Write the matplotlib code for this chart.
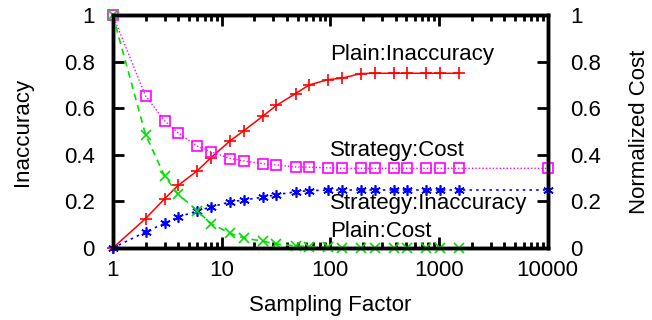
import matplotlib
matplotlib.use('Agg')
import matplotlib.pyplot as plt
from matplotlib.ticker import LogLocator, FixedLocator, NullFormatter

plt.rcParams['font.family'] = ['Liberation Sans', 'DejaVu Sans']

# sampling factors
factor = [1, 2, 3, 4, 6, 8, 12, 16, 24, 32, 48, 64, 96, 128, 192, 256, 384, 512, 768, 1024, 1536]
factor_strategy = factor + [10000]

# series
plain_inacc = [0.0, 0.126, 0.212, 0.269, 0.332, 0.388, 0.46, 0.503, 0.566, 0.612, 0.663, 0.700,
               0.723, 0.729, 0.749, 0.750, 0.750, 0.750, 0.750, 0.750, 0.750]
strategy_cost = [1.0, 0.653, 0.546, 0.494, 0.437, 0.413, 0.384, 0.374, 0.362, 0.357, 0.348, 0.347,
                 0.344, 0.342, 0.342, 0.342, 0.342, 0.342, 0.342, 0.342, 0.342, 0.342]
strategy_inacc = [0.0, 0.069, 0.106, 0.133, 0.159, 0.176, 0.198, 0.206, 0.218, 0.229, 0.241, 0.246,
                  0.249, 0.249, 0.249, 0.249, 0.249, 0.249, 0.249, 0.249, 0.249, 0.249]
plain_cost = [1.0, 0.487, 0.308, 0.231, 0.159, 0.105, 0.063, 0.043, 0.029, 0.017, 0.009, 0.006,
              0.003, 0.002, 0.001, 0.0, 0.0, 0.0, 0.0, 0.0, 0.0]

fig = plt.figure(figsize=(6.52, 3.2), dpi=100)
ax = fig.add_axes([0.173, 0.225, 0.667, 0.728])
ax2 = ax.twinx()

ax.plot(factor, plain_inacc, color='#ff0000', lw=1.1, ls='-', marker='+', ms=8, mew=1.2, clip_on=False)
ax.plot(factor_strategy, strategy_inacc, color='#0000ff', lw=1.2, ls=(0, (1.5, 2.5)), marker=(6, 2, 0),
        ms=7.5, mew=1.2, clip_on=False, zorder=3)
ax2.plot(factor_strategy, strategy_cost, color='#ff00ff', lw=1.0, ls=(0, (1, 1.5)), marker='s', ms=7,
         mfc='none', mew=1.2, clip_on=False)
ax2.plot(factor, plain_cost, color='#00e000', lw=1.2, ls=(0, (4, 3)), marker='x', ms=7, mew=1.2, clip_on=False)

for a in (ax, ax2):
    a.set_xscale('log')
    a.set_xlim(1, 10000)
    a.set_ylim(0, 1)
    a.yaxis.set_major_locator(FixedLocator([0, 0.2, 0.4, 0.6, 0.8, 1]))
    for s in a.spines.values():
        s.set_linewidth(2.5)

ax.xaxis.set_major_locator(LogLocator(base=10))
ax.xaxis.set_minor_locator(LogLocator(base=10, subs=range(2, 10)))
ax.xaxis.set_minor_formatter(NullFormatter())
ax.set_xticks([1, 10, 100, 1000, 10000])
ax.set_xticklabels(['1', '10', '100', '1000', '10000'])
ax.set_yticklabels(['0', '0.2', '0.4', '0.6', '0.8', '1'])
ax2.set_yticklabels(['0', '0.2', '0.4', '0.6', '0.8', '1'])

ax.tick_params(which='major', direction='in', length=8, width=2, top=True, labelsize=16, pad=9)
ax.tick_params(which='minor', direction='in', length=4, width=2, top=True)
ax.tick_params(axis='y', which='major', pad=13, right=False)
ax2.tick_params(which='major', direction='in', length=8, width=2, labelsize=16, pad=16)

ax.set_xlabel('Sampling Factor', fontsize=16, labelpad=10)
ax.set_ylabel('Inaccuracy', fontsize=16, labelpad=22)
ax2.set_ylabel('Normalized Cost', fontsize=16, labelpad=20)

ax.text(100, 0.83, 'Plain:Inaccuracy', fontsize=16, va='center', ha='left')
ax.text(100, 0.42, 'Strategy:Cost', fontsize=16, va='center', ha='left')
ax.text(100, 0.19, 'Strategy:Inaccuracy', fontsize=16, va='center', ha='left')
ax.text(100, 0.07, 'Plain:Cost', fontsize=16, va='center', ha='left')

fig.savefig('out.png', dpi=100)
